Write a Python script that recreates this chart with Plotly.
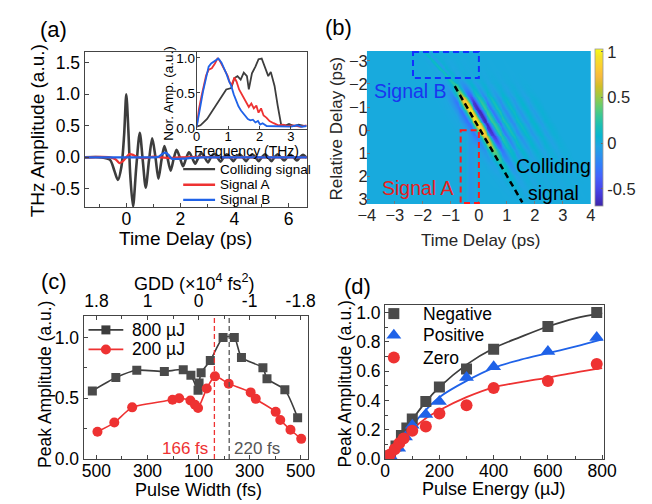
import numpy as np
import plotly.graph_objects as go

W, H = 652, 504
FONT = "Liberation Sans, Arial, Helvetica, sans-serif"
GRAY = "#3d3d3d"
RED = "#ee3232"
BLUE = "#1f62e8"

# ---------------- (a) time-domain waveforms ----------------
col_t = [-1.55, -0.9, -0.6, -0.45, -0.31, -0.18, -0.08, 0.0, 0.08, 0.15, 0.25, 0.37, 0.5, 0.61, 0.72,
         0.84, 0.96, 1.08, 1.19, 1.3, 1.41, 1.52, 1.64, 1.75, 1.86, 1.98, 2.1, 2.21, 2.32, 2.43,
         2.55, 2.66, 2.78, 2.9, 3.02, 3.13, 3.25, 3.37, 3.49, 3.6, 3.72, 3.84, 3.96, 4.07, 4.19,
         4.31, 4.43, 4.54, 4.66, 4.78, 4.9, 5.01, 5.13, 5.25, 5.37, 5.48, 5.6, 5.72, 5.84, 5.95,
         6.07, 6.19, 6.31, 6.42, 6.54, 6.68]
col_v = [0.0, 0.0, -0.04, -0.2, -0.36, -0.15, 0.35, 1.0, 0.4, -0.3, -0.78, -0.15, 0.39, -0.05, -0.48,
         -0.05, 0.30, 0.0, -0.34, -0.05, 0.18, 0.0, -0.21, -0.03, 0.12, 0.0, -0.14, -0.02, 0.08, 0.0,
         -0.10, -0.01, 0.07, 0.0, -0.08, 0.0, 0.06, 0.0, -0.07, 0.0, 0.05, 0.0, -0.06, 0.0, 0.05,
         0.0, -0.06, 0.0, 0.05, 0.0, -0.06, 0.0, 0.05, 0.0, -0.06, 0.0, 0.05, 0.0, -0.05, 0.0,
         0.04, 0.0, -0.05, 0.0, 0.04, -0.01]
sigA_t = [-1.55, -0.6, -0.4, -0.25, -0.12, 0.0, 0.12, 0.25, 0.42, 0.7, 1.0, 1.3, 1.6, 2.0, 2.5, 3.5, 5.0, 6.68]
sigA_v = [0.0, 0.0, -0.03, -0.09, -0.06, 0.0, 0.05, 0.04, 0.0, -0.01, 0.01, 0.0, -0.01, 0.0, 0.005, 0.0, 0.0, 0.0]
sigB_t = [-1.55, 0.5, 1.0, 1.2, 1.32, 1.45, 1.56, 1.68, 1.85, 2.1, 2.4, 2.8, 3.5, 5.0, 6.68]
sigB_v = [0.0, 0.0, 0.0, 0.01, 0.05, 0.075, 0.04, -0.02, -0.025, -0.02, -0.01, 0.0, 0.0, 0.0, 0.0]

# inset spectra
spB_f = [0.0, 0.06, 0.12, 0.2, 0.28, 0.38, 0.46, 0.53, 0.62, 0.69, 0.79, 0.88, 0.94, 1.02, 1.1, 1.18,
         1.25, 1.33, 1.41, 1.5, 1.56, 1.63, 1.71, 1.79, 1.87, 1.95, 2.02, 2.1, 2.23, 2.4, 2.6, 2.8,
         3.0, 3.2, 3.35, 3.5]
spB_v = [0.02, 0.15, 0.32, 0.52, 0.69, 0.875, 0.92, 0.94, 0.97, 0.99, 0.93, 0.85, 0.78, 0.68, 0.6, 0.48,
         0.39, 0.31, 0.25, 0.2, 0.18, 0.13, 0.11, 0.12, 0.08, 0.1, 0.05, 0.07, 0.03, 0.03, 0.02, 0.03,
         0.02, 0.04, 0.02, 0.03]
spA_f = [0.0, 0.07, 0.15, 0.23, 0.3, 0.38, 0.48, 0.58, 0.66, 0.72, 0.84, 0.92, 0.99, 1.05, 1.12, 1.2,
         1.27, 1.35, 1.43, 1.5, 1.58, 1.66, 1.74, 1.82, 1.9, 1.97, 2.05, 2.13, 2.22, 2.32, 2.45, 2.6,
         2.75, 2.9, 3.1, 3.3, 3.5]
spA_v = [0.02, 0.27, 0.45, 0.64, 0.75, 0.83, 0.85, 0.92, 0.99, 0.97, 0.875, 0.8, 0.74, 0.65, 0.62, 0.72,
         0.66, 0.55, 0.48, 0.42, 0.36, 0.3, 0.35, 0.28, 0.32, 0.22, 0.28, 0.18, 0.15, 0.1, 0.07, 0.04,
         0.05, 0.03, 0.04, 0.02, 0.04]
spC_f = [0.0, 0.12, 0.33, 0.53, 0.74, 0.94, 1.1, 1.2, 1.3, 1.4, 1.5, 1.6, 1.66, 1.76, 1.87, 1.97, 2.07,
         2.17, 2.28, 2.36, 2.48, 2.58, 2.69, 2.84, 2.94, 3.1, 3.25, 3.45]
spC_v = [0.02, 0.04, 0.13, 0.27, 0.41, 0.55, 0.57, 0.71, 0.74, 0.69, 0.79, 0.74, 0.55, 0.78, 0.875, 0.98,
         0.99, 0.875, 0.74, 0.8, 0.6, 0.32, 0.05, 0.04, 0.06, 0.03, 0.05, 0.03]

# ---------------- (b) 2D map ----------------
hm_prof_u = [-1.0, -0.6, -0.42, -0.27, -0.13, 0.0, 0.08, 0.18, 0.29, 0.38, 0.5, 0.6, 0.7, 0.82, 0.95,
             1.05, 1.17, 1.3, 1.42, 1.55, 1.68, 1.8, 1.92, 2.05, 2.18, 2.3, 2.42, 2.55, 2.8, 3.5]
hm_prof_v = [0.0, -0.02, -0.15, -0.32, 0.2, 0.95, 1.0, 0.35, -0.6, -0.69, -0.1, 0.32, 0.18, -0.3, 0.0,
             0.22, 0.0, -0.18, 0.0, 0.14, 0.0, -0.11, 0.0, 0.09, 0.0, -0.07, 0.0, 0.05, 0.0, 0.0]
hm_env_y = [-3.42, -2.6, -2.2, -1.8, -1.5, -1.2, -0.8, -0.3, 0.2, 0.6, 1.0, 1.5, 2.0, 2.6, 3.2]
hm_env_v = [0.0, 0.03, 0.1, 0.3, 0.6, 0.9, 1.0, 1.0, 0.85, 0.6, 0.35, 0.18, 0.08, 0.03, 0.0]
coll_line_t = [-0.86, 1.55]
coll_line_y = [-1.9, 3.12]
hmB_line_t = [-1.94, -0.91]
hmB_line_y = [-3.4, -2.03]
hmB_prof_u = [-0.3, -0.12, 0.0, 0.12, 0.25, 0.4]
hmB_prof_v = [0.0, -0.03, 0.2, -0.12, 0.03, 0.0]
hmB_env_y = [-3.42, -2.6, -2.2, -1.9, -1.6, 3.2]
hmB_env_v = [0.6, 0.9, 0.7, 0.3, 0.0, 0.0]
hmA_prof_t = [-0.7, -0.5, -0.35, -0.2, -0.05]
hmA_prof_v = [0.0, 0.02, -0.08, -0.06, 0.0]
hmA_env_y = [-3.42, 0.0, 0.5, 3.2]
hmA_env_v = [0.0, 0.0, 1.0, 1.0]
boxB_t = [-2.35, 0.0]
boxB_y = [-3.38, -2.25]
boxA_t = [-0.65, 0.0]
boxA_y = [0.0, 3.15]

# ---------------- (c) peak amplitude vs chirp ----------------
c_tickpos = [2, 1, 0, -1, -2]
c_bottom_labels = ["500", "300", "100", "300", "500"]
c_top_labels = ["1.8", "1", "0", "-1", "-1.8"]
e800_u = [2.08, 1.62, 1.21, 0.67, 0.30, 0.15, 0.01, -0.01, -0.05, -0.23, -0.48, -0.70, -0.84, -1.26, -1.34, -1.69, -1.94]
e800_v = [0.56, 0.67, 0.73, 0.72, 0.735, 0.69, 0.565, 0.625, 0.71, 0.81, 1.0, 1.0, 0.835, 0.75, 0.66, 0.57, 0.34]
e200_u = [1.98, 1.65, 1.30, 0.51, 0.38, 0.16, 0.07, 0.01, -0.16, -0.32, -0.59, -1.02, -1.12, -1.51, -1.60, -1.80, -2.01]
e200_v = [0.225, 0.30, 0.425, 0.487, 0.50, 0.481, 0.447, 0.42, 0.58, 0.68, 0.62, 0.548, 0.495, 0.388, 0.321, 0.241, 0.166]
c_mark_u = [-0.31, -0.60]
c_mark_text = ["166 fs", "220 fs"]

# ---------------- (d) peak amplitude vs pulse energy ----------------
neg_x = [20, 40, 60, 80, 100, 150, 200, 300, 400, 600, 780]
neg_y = [0.022, 0.089, 0.16, 0.211, 0.273, 0.393, 0.491, 0.615, 0.749, 0.904, 1.0]
pos_x = [20, 50, 75, 100, 150, 200, 300, 400, 600, 780]
pos_y = [0.018, 0.073, 0.15, 0.23, 0.304, 0.393, 0.556, 0.629, 0.733, 0.829]
zer_x = [17, 35, 52, 68, 100, 150, 200, 300, 400, 600, 780]
zer_y = [0.029, 0.067, 0.107, 0.14, 0.193, 0.222, 0.311, 0.367, 0.484, 0.533, 0.649]
negfit_x = [30, 60, 100, 150, 200, 300, 400, 500, 600, 700, 800]
negfit_y = [0.0, 0.12, 0.265, 0.39, 0.49, 0.644, 0.756, 0.833, 0.904, 0.96, 0.995]
posfit_x = [22, 50, 100, 150, 200, 300, 400, 500, 600, 700, 800]
posfit_y = [0.0, 0.09, 0.228, 0.335, 0.422, 0.533, 0.622, 0.678, 0.722, 0.767, 0.816]
zerfit_x = [8, 50, 100, 150, 200, 300, 400, 500, 600, 700, 800]
zerfit_y = [0.0, 0.1, 0.2, 0.278, 0.333, 0.422, 0.489, 0.525, 0.556, 0.59, 0.62]

# ---------------- build heat map ----------------
hm_t = np.linspace(-4, 4, 241)
hm_y = np.linspace(-3.42, 3.2, 166)
T, Y = np.meshgrid(hm_t, hm_y)
sl = (coll_line_t[1] - coll_line_t[0]) / (coll_line_y[1] - coll_line_y[0])
tl = coll_line_t[0] + sl * (Y - coll_line_y[0])
main = np.interp((T - tl).ravel(), hm_prof_u, hm_prof_v).reshape(T.shape)
main *= np.interp(hm_y, hm_env_y, hm_env_v)[:, None]
slB = (hmB_line_t[1] - hmB_line_t[0]) / (hmB_line_y[1] - hmB_line_y[0])
tlB = hmB_line_t[0] + slB * (Y - hmB_line_y[0])
partB = np.interp((T - tlB).ravel(), hmB_prof_u, hmB_prof_v).reshape(T.shape)
partB *= np.interp(hm_y, hmB_env_y, hmB_env_v)[:, None]
partA = np.interp(T.ravel(), hmA_prof_t, hmA_prof_v).reshape(T.shape)
partA *= np.interp(hm_y, hmA_env_y, hmA_env_v)[:, None]
Z = (main + partB + partA).round(4).tolist()

parula = [(62, 38, 168), (69, 55, 213), (72, 77, 240), (69, 99, 253), (50, 124, 252), (43, 145, 239),
          (32, 165, 227), (8, 181, 208), (25, 191, 182), (55, 200, 151), (100, 205, 111), (157, 201, 67),
          (209, 191, 39), (248, 186, 61), (252, 207, 48), (245, 227, 39), (249, 251, 21)]
pos = [round(i * 4 / 63, 5) for i in range(16)] + [1.0]
cscale = [[p, "rgb(%d,%d,%d)" % c] for p, c in zip(pos, parula)]


def px(x):
    return x / W


def py(y):
    return 1 - y / H


def dom_x(a, b):
    return [a / W, b / W]


def dom_y(top, bot):
    return [1 - bot / H, 1 - top / H]


fig = go.Figure()

# (a)
fig.add_trace(go.Scatter(x=col_t, y=col_v, mode="lines", line=dict(color=GRAY, width=2.6, shape="spline", smoothing=0.8),
                         xaxis="x", yaxis="y"))
fig.add_trace(go.Scatter(x=sigA_t, y=sigA_v, mode="lines", line=dict(color=RED, width=2.3, shape="spline", smoothing=0.8),
                         xaxis="x", yaxis="y"))
fig.add_trace(go.Scatter(x=sigB_t, y=sigB_v, mode="lines", line=dict(color=BLUE, width=2.3, shape="spline", smoothing=0.8),
                         xaxis="x", yaxis="y"))
# inset
fig.add_trace(go.Scatter(x=spC_f, y=spC_v, mode="lines", line=dict(color=GRAY, width=1.8), xaxis="x2", yaxis="y2"))
fig.add_trace(go.Scatter(x=spA_f, y=spA_v, mode="lines", line=dict(color=RED, width=1.8), xaxis="x2", yaxis="y2"))
fig.add_trace(go.Scatter(x=spB_f, y=spB_v, mode="lines", line=dict(color=BLUE, width=1.8), xaxis="x2", yaxis="y2"))

# (b)
fig.add_trace(go.Heatmap(x=hm_t.round(4).tolist(), y=hm_y.round(4).tolist(), z=Z, zmin=-0.69, zmax=1.03,
                         colorscale=cscale, zsmooth="best", xaxis="x3", yaxis="y3",
                         colorbar=dict(x=598 / W, xanchor="left", y=py(120.5), yanchor="middle",
                                       len=157, lenmode="pixels", thickness=8, thicknessmode="pixels",
                                       xpad=0, ypad=0, outlinewidth=0.8, outlinecolor="#9a9a9a",
                                       tickvals=[-0.5, 0, 0.5, 1], ticktext=["-0.5", "0", "0.5", "1"],
                                       ticks="inside", ticklen=2, tickcolor="#666",
                                       tickfont=dict(size=16.5, color="#262626", family=FONT))))

# (c)
fig.add_trace(go.Scatter(x=e800_u, y=e800_v, mode="lines+markers",
                         line=dict(color=GRAY, width=1.6, shape="spline", smoothing=0.6),
                         marker=dict(symbol="square", size=9, color="#4a4a4a"), xaxis="x4", yaxis="y4"))
fig.add_trace(go.Scatter(x=e200_u, y=e200_v, mode="lines+markers",
                         line=dict(color=RED, width=1.6, shape="spline", smoothing=0.6),
                         marker=dict(symbol="circle", size=10, color=RED), xaxis="x4", yaxis="y4"))
fig.add_trace(go.Scatter(x=[0], y=[-1], mode="markers", marker=dict(size=1, opacity=0), xaxis="x5", yaxis="y4"))

# (d)
fig.add_trace(go.Scatter(x=negfit_x, y=negfit_y, mode="lines", line=dict(color=GRAY, width=1.8, shape="spline"),
                         xaxis="x6", yaxis="y6"))
fig.add_trace(go.Scatter(x=posfit_x, y=posfit_y, mode="lines", line=dict(color=BLUE, width=1.8, shape="spline"),
                         xaxis="x6", yaxis="y6"))
fig.add_trace(go.Scatter(x=zerfit_x, y=zerfit_y, mode="lines", line=dict(color=RED, width=1.8, shape="spline"),
                         xaxis="x6", yaxis="y6"))
fig.add_trace(go.Scatter(x=neg_x, y=neg_y, mode="markers", marker=dict(symbol="square", size=11, color="#4a4a4a"),
                         xaxis="x6", yaxis="y6"))
fig.add_trace(go.Scatter(x=pos_x, y=pos_y, mode="markers", marker=dict(symbol="triangle-up", size=13, color=BLUE),
                         xaxis="x6", yaxis="y6"))
fig.add_trace(go.Scatter(x=zer_x, y=zer_y, mode="markers", marker=dict(symbol="circle", size=12, color=RED),
                         xaxis="x6", yaxis="y6"))

# legend samples drawn on a pixel overlay axis
leg_a = [("Colliding signal", GRAY, 163), ("Signal A", RED, 179), ("Signal B", BLUE, 194.5)]
for name, c, yy in leg_a:
    fig.add_trace(go.Scatter(x=[172, 205], y=[yy, yy], mode="lines", line=dict(color=c, width=2.3),
                             xaxis="x7", yaxis="y7"))
leg_c = [("800 µJ", GRAY, "square", 327.7, 9), ("200 µJ", RED, "circle", 347.7, 10)]
for name, c, sym, yy, sz in leg_c:
    fig.add_trace(go.Scatter(x=[74, 110], y=[yy, yy], mode="lines", line=dict(color=c, width=1.6),
                             xaxis="x7", yaxis="y7"))
    fig.add_trace(go.Scatter(x=[92], y=[yy], mode="markers", marker=dict(symbol=sym, size=sz, color=c),
                             xaxis="x7", yaxis="y7"))
leg_d = [("Negative", "#4a4a4a", "square", 311, 11), ("Positive", BLUE, "triangle-up", 333.3, 13),
         ("Zero", RED, "circle", 356, 12)]
for name, c, sym, yy, sz in leg_d:
    fig.add_trace(go.Scatter(x=[390], y=[yy], mode="markers", marker=dict(symbol=sym, size=sz, color=c),
                             xaxis="x7", yaxis="y7"))


def oax(**kw):
    d = dict(showline=True, linecolor="#444", linewidth=1.2, mirror=True, ticks="inside", ticklen=4,
             tickcolor="#444", tickwidth=1, showgrid=False, zeroline=False,
             tickfont=dict(size=18, color="black", family=FONT))
    d.update(kw)
    return d


def mnr(dt, t0=0):
    return dict(dtick=dt, tick0=t0, ticks="inside", ticklen=3, tickcolor="#444", showgrid=False)


XT = dict(size=17.5, color="black", family=FONT)

layout = dict(
    width=W, height=H, margin=dict(l=0, r=0, t=0, b=0), paper_bgcolor="white", plot_bgcolor="rgba(0,0,0,0)",
    showlegend=False, font=dict(family=FONT, color="black"),
    xaxis=oax(domain=dom_x(70, 300), anchor="y", range=[-1.54, 6.68], tickvals=[0, 2, 4, 6], minor=mnr(1),
              ticklabelstandoff=-4, tickfont=XT),
    yaxis=oax(domain=dom_y(43, 202), anchor="x", range=[-0.79, 1.67], tickvals=[-0.5, 0, 0.5, 1.0, 1.5],
              ticktext=["-0.5", "0.0", "0.5", "1.0", "1.5"], tickfont=dict(size=17.5, color="black", family=FONT)),
    xaxis2=oax(domain=dom_x(186, 300), anchor="y2", range=[0, 3.51], tickvals=[0, 1, 2, 3], ticklen=3,
               ticklabelstandoff=-5, tickfont=dict(size=13, color="black", family=FONT)),
    yaxis2=oax(domain=dom_y(43, 122), anchor="x2", range=[-0.014, 1.083], tickvals=[0, 0.5, 1.0], ticklen=3,
               ticktext=["0.0", "0.5", "1.0"], ticklabelstandoff=-2, tickfont=dict(size=13.5, color="black", family=FONT)),
    xaxis3=dict(domain=dom_x(362, 594), anchor="y3", range=[-4, 4], tickvals=[-4, -3, -2, -1, 0, 1, 2, 3, 4],
                showline=False, ticks="inside", ticklen=3, tickcolor="#777", showgrid=False, zeroline=False,
                ticklabelstandoff=-1, tickfont=dict(size=16.5, color="#262626", family=FONT)),
    yaxis3=dict(domain=dom_y(42, 199), anchor="x3", range=[3.2, -3.42], tickvals=[-3, -2, -1, 0, 1, 2, 3],
                showline=False, ticks="inside", ticklen=3, tickcolor="#777", showgrid=False, zeroline=False,
                ticklabelstandoff=-2, tickfont=dict(size=16.5, color="#262626", family=FONT)),
    xaxis4=oax(domain=dom_x(69, 301), anchor="y4", range=[2.25, -2.14], tickvals=c_tickpos, ticktext=c_bottom_labels,
               mirror=False, minor=mnr(0.5), ticklabelstandoff=-4, tickfont=XT),
    xaxis5=oax(domain=dom_x(69, 301), anchor="y4", overlaying="x4", side="top", range=[2.25, -2.14],
               tickvals=c_tickpos, ticktext=c_top_labels, mirror=False, minor=mnr(0.5), tickfont=XT),
    yaxis4=oax(domain=dom_y(313, 460), anchor="x4", range=[0, 1.18], tickvals=[0, 0.5, 1.0],
               ticktext=["0.0", "0.5", "1.0"], minor=mnr(0.25), tickfont=XT),
    xaxis6=oax(domain=dom_x(381, 607), anchor="y6", range=[0, 805], tickvals=[0, 200, 400, 600, 800], minor=mnr(100),
               ticklabelstandoff=-4, tickfont=XT),
    yaxis6=oax(domain=dom_y(302, 460), anchor="x6", range=[0, 1.052], tickvals=[0, 0.2, 0.4, 0.6, 0.8, 1.0],
               ticktext=["0.0", "0.2", "0.4", "0.6", "0.8", "1.0"], minor=mnr(0.1), tickfont=XT),
    xaxis7=dict(domain=[0, 1], anchor="y7", range=[0, W], visible=False, fixedrange=True),
    yaxis7=dict(domain=[0, 1], anchor="x7", range=[H, 0], visible=False, fixedrange=True),
)
fig.update_layout(**layout)

shapes = [
    dict(type="rect", xref="x3", yref="y3", x0=boxB_t[0], x1=boxB_t[1], y0=boxB_y[0], y1=boxB_y[1],
         line=dict(color="#1030ff", width=2, dash="6px,4px")),
    dict(type="rect", xref="x3", yref="y3", x0=boxA_t[0], x1=boxA_t[1], y0=boxA_y[0], y1=boxA_y[1],
         line=dict(color="#ff1a1a", width=2, dash="6px,4px")),
    dict(type="line", xref="x3", yref="y3", x0=coll_line_t[0], x1=coll_line_t[1], y0=coll_line_y[0],
         y1=coll_line_y[1], line=dict(color="black", width=2.5, dash="6px,4px")),
    dict(type="line", xref="x4", yref="y4", x0=c_mark_u[0], x1=c_mark_u[0], y0=0, y1=1.18,
         line=dict(color=RED, width=1.3, dash="5px,3px")),
    dict(type="line", xref="x4", yref="y4", x0=c_mark_u[1], x1=c_mark_u[1], y0=0, y1=1.18,
         line=dict(color="#555555", width=1.3, dash="5px,3px")),
]
fig.update_layout(shapes=shapes)


def ann(text, x, y, size, color="black", angle=0, xanchor="center", yanchor="middle"):
    return dict(text=text, x=px(x), y=py(y), xref="paper", yref="paper", showarrow=False,
                font=dict(size=size, color=color, family=FONT), textangle=angle, xanchor=xanchor, yanchor=yanchor)


annotations = [
    ann("(a)", 38, 20, 22), ann("(b)", 333, 18, 22), ann("(c)", 38, 278, 22), ann("(d)", 352, 283, 22),
    ann("THz Amplitude (a.u.)", 21, 124, 19, angle=-90),
    ann("Time Delay (ps)", 174, 234, 19),
    ann("Frequency (THz)", 237, 144.5, 14),
    ann("Nor. Amp. (a.u.)", 157, 85, 13.5, angle=-90),
    ann("Relative Delay (ps)", 331, 121.5, 17, color="#262626", angle=-90),
    ann("Time Delay (ps)", 480, 236, 17, color="#262626"),
    ann("Signal B", 407.5, 83.3, 19.5, color="#1a35f0"),
    ann("Signal A", 415, 182.7, 19.5, color="#e82020"),
    ann("Colliding", 555.5, 159.3, 19.5),
    ann("signal", 555.7, 187, 19.5),
    ann("Peak Amplitude (a.u.)", 29, 384, 17.5, angle=-90),
    ann("GDD (×10<sup>4</sup> fs<sup>2</sup>)", 183.3, 279, 18),
    ann("Pulse Width (fs)", 188.3, 492, 18),
    ann(c_mark_text[0], 174, 449, 17, color=RED),
    ann(c_mark_text[1], 248, 449, 17, color="#555555"),
    ann("Peak Amplitude (a.u.)", 339, 383, 17.5, angle=-90),
    ann("Pulse Energy (µJ)", 493.3, 491, 18),
]
for name, c, yy in leg_a:
    annotations.append(ann(name, 208, yy, 13.5, xanchor="left"))
for name, c, sym, yy, sz in leg_c:
    annotations.append(ann(name, 116.7, yy, 17.5, xanchor="left"))
for name, c, sym, yy, sz in leg_d:
    annotations.append(ann(name, 418.3, yy, 17.5, xanchor="left"))
fig.update_layout(annotations=annotations)

fig.write_html("out.html")
